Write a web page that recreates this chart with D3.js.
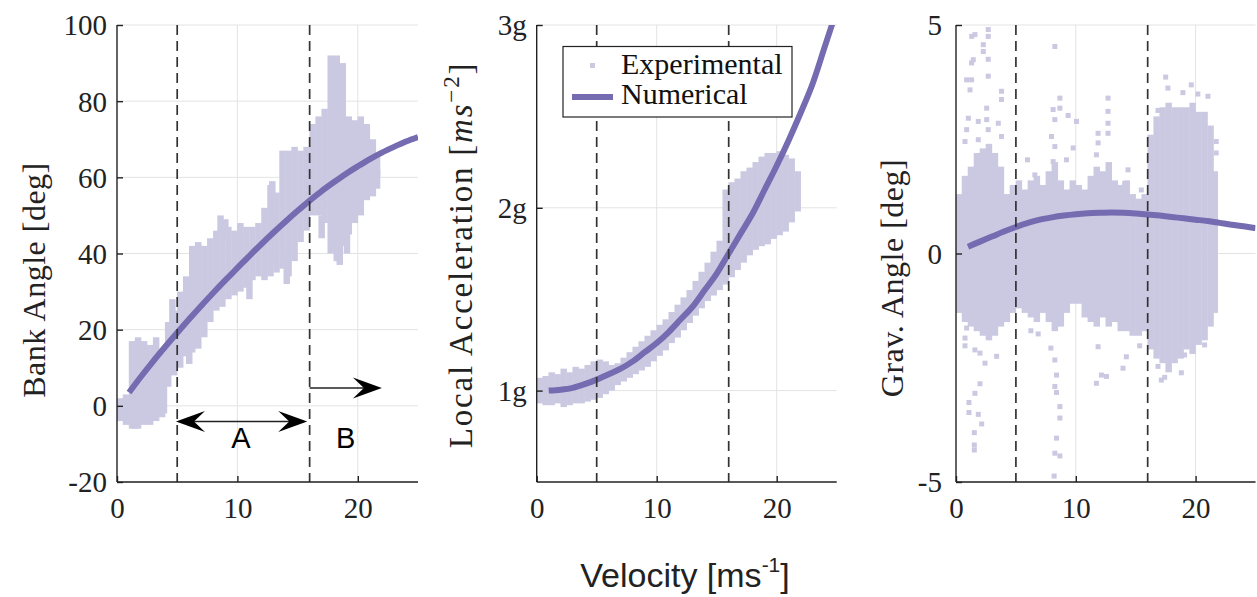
<!DOCTYPE html>
<html><head><meta charset="utf-8">
<script src="https://cdn.jsdelivr.net/npm/d3@7"></script>
<style>body{margin:0;background:#fff}svg{display:block}</style>
</head><body>
<svg id="chart" width="1257" height="597"></svg>
<script>
// ---------------- DATA ----------------
const velocityTicks = [0, 10, 20];
const dashedVelocities = [5, 16];
const bankTicks = [-20, 0, 20, 40, 60, 80, 100];
const accelTicks = [1, 2, 3];
const accelTickLabels = ["1g", "2g", "3g"];
const gravTicks = [-5, 0, 5];

const curveVelocity = [1,2,3,4,5,6,7,8,9,10,11,12,13,14,15,16,17,18,19,20,21,22,23,24,25];
const bankNumerical = [3.5,7.7,11.7,15.5,19.2,22.8,26.3,29.7,33.0,36.2,39.4,42.5,45.5,48.4,51.2,53.9,56.4,58.7,60.9,62.9,64.8,66.5,68.0,69.4,70.6];
const accelNumerical = [1.0,1.005,1.015,1.035,1.06,1.09,1.12,1.16,1.21,1.26,1.32,1.39,1.46,1.55,1.64,1.75,1.86,1.97,2.10,2.23,2.37,2.52,2.68,2.88,3.08];
const gravNumerical = [0.15,0.26,0.37,0.48,0.58,0.67,0.74,0.79,0.83,0.86,0.88,0.89,0.895,0.89,0.875,0.855,0.83,0.80,0.77,0.74,0.71,0.67,0.63,0.595,0.555];

// experimental clouds: [velocity, low, high]
const bankExperimental = [
 [0.25,-4,2],[0.75,-5,3],[1.25,-6,17],[1.75,-6,18],[2.25,-5,17],[2.75,-5,16],[3.25,-4,18],[3.75,-3,14],
 [4.25,5,22],[4.75,8,25],[5.25,10,30],[5.75,13,34],[6.25,14,42],[6.75,15,43],[7.25,18,42],[7.75,22,44],
 [8.25,25,46],[8.75,26,48],[9.25,28,47],[9.75,29,46],[10.25,30,48],[10.75,31,47],[11.25,33,47],[11.75,34,48],
 [12.25,33,52],[12.75,34,58],[13.25,35,56],[13.75,36,67],[14.25,34,67],[14.75,38,68],[15.25,43,67],[15.75,46,68],
 [16.25,50,74],[16.75,50,76],[17.25,48,78],[17.75,40,92],[18.25,38,92],[18.75,42,90],[19.25,45,76],[19.75,48,75],
 [20.25,50,76],[20.75,54,74],[21.25,55,70],[21.6,57,62],
 [1.5,-6,-3],[3.9,-2,8],[4.6,18,28],[8.6,45,50],[9.0,44,49],[12.9,38,59],[14.1,32,40],[17.0,44,50],
 [18.5,37,45],[19.1,40,50],[21.6,60,66],[11.0,28,34],[6.0,11,16]
];
const accelExperimental = [
 [0.25,0.93,1.07],[0.75,0.92,1.08],[1.25,0.92,1.10],[1.75,0.93,1.09],[2.25,0.91,1.12],[2.75,0.92,1.10],
 [3.25,0.93,1.13],[3.75,0.93,1.12],[4.25,0.94,1.14],[4.75,0.95,1.16],[5.25,0.96,1.17],[5.75,0.98,1.16],
 [6.25,1.0,1.14],[6.75,1.03,1.15],[7.25,1.05,1.18],[7.75,1.07,1.21],[8.25,1.09,1.24],[8.75,1.11,1.27],
 [9.25,1.13,1.30],[9.75,1.16,1.33],[10.25,1.19,1.36],[10.75,1.22,1.39],[11.25,1.26,1.43],[11.75,1.29,1.47],
 [12.25,1.33,1.51],[12.75,1.37,1.55],[13.25,1.41,1.60],[13.75,1.45,1.65],[14.25,1.49,1.70],[14.75,1.52,1.76],
 [15.25,1.55,1.82],[15.75,1.58,2.10],[16.25,1.62,2.14],[16.75,1.66,2.16],[17.25,1.70,2.20],[17.75,1.74,2.22],
 [18.25,1.77,2.25],[18.75,1.79,2.28],[19.25,1.80,2.30],[19.75,1.83,2.30],[20.25,1.85,2.31],[20.75,1.87,2.29],
 [21.25,1.92,2.27],[21.75,1.98,2.20]
];
const gravExperimental = [
 [0.25,-1.3,1.3],[0.75,-1.5,1.7],[1.25,-1.6,1.9],[1.75,-1.7,2.2],[2.25,-1.8,2.3],[2.75,-1.9,2.4],
 [3.25,-1.8,2.2],[3.75,-1.6,1.9],[4.25,-1.5,1.3],[4.75,-1.3,1.5],[5.25,-1.2,1.6],[5.75,-1.3,1.4],
 [6.25,-1.4,1.6],[6.75,-1.5,1.7],[7.25,-1.3,1.5],[7.75,-1.5,1.8],[8.25,-1.7,2.0],[8.75,-1.6,1.6],
 [9.25,-1.3,1.4],[9.75,-1.1,1.6],[10.25,-1.1,1.5],[10.75,-1.4,1.4],[11.25,-1.5,1.7],[11.75,-1.6,1.9],
 [12.25,-1.4,1.8],[12.75,-1.6,2.0],[13.25,-1.5,1.6],[13.75,-1.7,1.5],[14.25,-1.7,1.6],[14.75,-1.8,1.3],
 [15.25,-1.8,1.2],[15.75,-1.7,1.3],[16.25,-2.1,2.6],[16.75,-2.3,3.0],[17.25,-2.4,3.2],[17.75,-2.6,3.3],
 [18.25,-2.4,3.2],[18.75,-2.3,3.2],[19.25,-2.1,3.2],[19.75,-2.2,3.3],[20.25,-2.0,3.1],[20.75,-1.9,3.1],
 [21.25,-1.6,2.8],[21.6,-1.3,1.8]
];
// isolated experimental points: [velocity, angle]
const gravOutliers = [
 [1.31,4.75],[1.58,4.79],[2.69,4.9],[2.69,4.75],[2.28,4.57],[2.28,4.42],[1.44,4.24],[1.3,4.17],[2.69,4.25],
 [0.89,3.8],[1.3,3.8],[2.69,3.88],[1.17,3.58],[3.8,3.55],[3.8,3.37],[2.56,3.18],[1.03,2.96],[1.86,2.89],
 [2.56,2.93],[3.53,2.85],[0.89,2.71],[2.69,2.71],[1.86,2.49],[0.75,2.45],[3.8,2.56],
 [8.25,4.53],[8.67,3.4],[8.11,3.15],[8.67,3.18],[9.36,3.02],[8.25,2.93],[10.06,2.89],
 [12.69,3.4],[12.69,3.11],[12.69,2.85],[12.69,2.63],[11.86,2.63],[11.86,2.42],[7.97,2.56],[8.25,2.34],
 [9.78,2.31],[11.72,2.16],[9.22,2.05],[8.11,2.01],[5.97,2.05],[6.58,1.72],[14.36,1.83],[15.47,1.39],[14.08,1.53],
 [17.5,3.86],[19.64,3.69],[18.94,3.52],[21.03,3.44],[17.69,3.62],[20.19,3.49],[16.86,3.13],[21.72,2.45],[21.72,2.2],
 [0.89,-1.63],[0.75,-1.85],[0.75,-2.02],[1.58,-2.11],[2.0,-2.18],[2.42,-2.4],[3.39,-2.25],[2.0,-2.85],
 [1.58,-3.06],[1.08,-3.26],[1.08,-3.48],[1.86,-3.52],[2.14,-3.73],[1.53,-3.92],[1.53,-4.3],[1.53,-4.19],
 [6.25,-1.69],[6.86,-1.76],[7.92,-2.07],[8.25,-2.33],[8.39,-2.66],[8.25,-2.91],[8.39,-3.04],[8.67,-3.35],
 [8.67,-3.6],[8.39,-4.04],[8.25,-4.37],[8.67,-4.43],[8.19,-4.87],[11.72,-2.84],[12.14,-2.66],[12.56,-2.69],
 [13.94,-2.51],[14.22,-2.26],[11.86,-2.04],[15.33,-2.02],[16.86,-2.47],[17.42,-2.71],[17.14,-2.77],
 [18.81,-2.61],[19.08,-2.22],[20.75,-2.0],[20.06,-1.89]
];
const legendLabels = ["Experimental", "Numerical"];
// annotation arrows in panel 1: [fromV, toV, angle, doubleHeaded]
const regionArrows = [[4.9, 15.8, -4.1, true], [16, 22, 4.7, false]];
const regionLabels = [["A", 10.3, -11], ["B", 19.0, -11]];

// ---------------- STYLE / LAYOUT ----------------
const LIGHT = "#cbc9e2", DARK = "#756bb1", INK = "#222";
const SERIF = "'Liberation Serif','Times New Roman',serif";
const SANS = "'Liberation Sans',Arial,sans-serif";
const svg = d3.select("#chart");
const plotTop = 25, plotBottom = 482;

const panels = [
  {x0: 117, x1: 418, domain: [-20, 100], ticks: bankTicks, fmt: d => String(d),
   cloud: bankExperimental, curve: bankNumerical},
  {x0: 536.7, x1: 836.7, domain: [0.5, 3], ticks: accelTicks, fmt: (d,i) => accelTickLabels[i],
   cloud: accelExperimental, curve: accelNumerical},
  {x0: 956, x1: 1255.5, domain: [-5, 5], ticks: gravTicks, fmt: d => String(d),
   cloud: gravExperimental, curve: gravNumerical, outliers: gravOutliers}
];

panels.forEach((p, pi) => {
  const x = d3.scaleLinear().domain([0, 25]).range([p.x0, p.x1]);
  const y = d3.scaleLinear().domain(p.domain).range([plotBottom, plotTop]);
  const g = svg.append("g");
  const clipId = "clip" + pi;
  svg.append("clipPath").attr("id", clipId).append("rect")
    .attr("x", p.x0).attr("y", plotTop).attr("width", p.x1 - p.x0).attr("height", plotBottom - plotTop);

  const grid = g.append("g").attr("stroke", "#e3e3e3").attr("stroke-width", 1);
  velocityTicks.filter(v => v > 0).forEach(v =>
    grid.append("line").attr("x1", x(v)).attr("x2", x(v)).attr("y1", plotTop).attr("y2", plotBottom));
  p.ticks.forEach(t =>
    grid.append("line").attr("x1", p.x0).attr("x2", p.x1).attr("y1", y(t)).attr("y2", y(t)));

  const data = g.append("g").attr("clip-path", `url(#${clipId})`);
  data.append("g").selectAll("rect").data(p.cloud).join("rect")
    .attr("x", d => x(d[0] - 0.27)).attr("width", d => x(0.54) - x(0))
    .attr("y", d => y(d[2])).attr("height", d => y(d[1]) - y(d[2]))
    .attr("fill", LIGHT);
  if (p.outliers) {
    data.append("g").selectAll("rect").data(p.outliers).join("rect")
      .attr("x", d => x(d[0]) - 2.5).attr("y", d => y(d[1]) - 2.5)
      .attr("width", 5).attr("height", 5).attr("fill", LIGHT);
  }
  dashedVelocities.forEach(v =>
    g.append("line").attr("x1", x(v)).attr("x2", x(v)).attr("y1", plotTop).attr("y2", plotBottom)
      .attr("stroke", "#333").attr("stroke-width", 1.7).attr("stroke-dasharray", "10,6"));
  const line = d3.line().x((d, i) => x(curveVelocity[i])).y(d => y(d)).curve(d3.curveMonotoneX);
  data.append("path").datum(p.curve).attr("d", line)
    .attr("fill", "none").attr("stroke", DARK).attr("stroke-width", 6);

  const xAxis = d3.axisBottom(x).tickValues(velocityTicks).tickSizeInner(-6).tickSizeOuter(0).tickPadding(16);
  const yAxis = d3.axisLeft(y).tickValues(p.ticks).tickFormat(p.fmt).tickSizeInner(-6).tickSizeOuter(0).tickPadding(pi === 2 ? 14 : 10);
  const gx = g.append("g").attr("transform", `translate(0,${plotBottom})`).call(xAxis);
  const gy = g.append("g").attr("transform", `translate(${p.x0},0)`).call(yAxis);
  [gx, gy].forEach(a => {
    a.select(".domain").attr("stroke", INK).attr("stroke-width", 1.4);
    a.selectAll(".tick line").attr("stroke", INK).attr("stroke-width", 1.4);
    a.selectAll(".tick text").attr("fill", INK).attr("font-family", SERIF).attr("font-size", 29);
  });
  gx.selectAll(".tick text").attr("dy", "0.69em");
  gy.selectAll(".tick text").attr("dy", "0.34em");
  gx.select(".domain").attr("d", `M${p.x0},0H${p.x1}`);
  gy.select(".domain").attr("d", `M0,${plotBottom}V${plotTop}`);
});

function ylabel(xp, yc, fs, ls) {
  return svg.append("text").attr("transform", `translate(${xp},${yc}) rotate(-90)`)
    .attr("text-anchor", "middle").attr("font-family", SERIF).attr("font-size", fs)
    .attr("letter-spacing", ls).attr("fill", INK);
}
ylabel(45, 280, 32, 0.5).text("Bank Angle [deg]");
const al = ylabel(472, 255, 33, 1.8);
al.append("tspan").text("Local Acceleration [");
al.append("tspan").attr("font-style", "italic").text("ms");
al.append("tspan").attr("font-size", 23).attr("dy", -13).text("\u22122");
al.append("tspan").attr("dy", 13).text("]");
ylabel(903, 278, 32, 0.5).text("Grav. Angle [deg]");

const xl = svg.append("text").attr("x", 685).attr("y", 587).attr("text-anchor", "middle")
  .attr("font-family", SANS).attr("font-size", 34).attr("fill", INK);
xl.append("tspan").text("Velocity [ms");
xl.append("tspan").attr("font-size", 21).attr("dy", -15).text("-1");
xl.append("tspan").attr("dy", 15).text("]");

const lg = svg.append("g");
lg.append("rect").attr("x", 563).attr("y", 46.5).attr("width", 229).attr("height", 70.5)
  .attr("fill", "#fff").attr("stroke", "#222").attr("stroke-width", 1.2);
lg.append("rect").attr("x", 590).attr("y", 63).attr("width", 5).attr("height", 5).attr("fill", LIGHT);
lg.append("line").attr("x1", 572).attr("x2", 613).attr("y1", 97).attr("y2", 97)
  .attr("stroke", DARK).attr("stroke-width", 6);
legendLabels.forEach((t, i) => lg.append("text").attr("x", 621).attr("y", 74 + i * 30)
  .attr("font-family", SERIF).attr("font-size", 30).attr("fill", "#111").text(t));

const xa = d3.scaleLinear().domain([0, 25]).range([117, 418]);
const ya = d3.scaleLinear().domain([-20, 100]).range([plotBottom, plotTop]);
function head(xTip, yTip, dir) {
  const L = 29, H = 21;
  const pts = [[0,0],[-L,-H/2],[-0.62*L,0],[-L,H/2]].map(([a,b]) => [xTip + dir*a, yTip + b]);
  svg.append("path").attr("d", "M" + pts.map(q => q.join(",")).join("L") + "Z").attr("fill", "#000");
}
regionArrows.forEach(([a, b, v, dbl]) => {
  svg.append("line").attr("x1", xa(a) + (dbl ? 10 : 0)).attr("x2", xa(b) - 10)
    .attr("y1", ya(v)).attr("y2", ya(v)).attr("stroke", "#222").attr("stroke-width", 1.5);
  head(xa(b), ya(v), 1);
  if (dbl) head(xa(a), ya(v), -1);
});
regionLabels.forEach(([t, v, val]) => svg.append("text").attr("x", xa(v)).attr("y", ya(val))
  .attr("text-anchor", "middle").attr("font-family", SANS).attr("font-size", 29).attr("fill", "#000").text(t));
</script>
</body></html>
